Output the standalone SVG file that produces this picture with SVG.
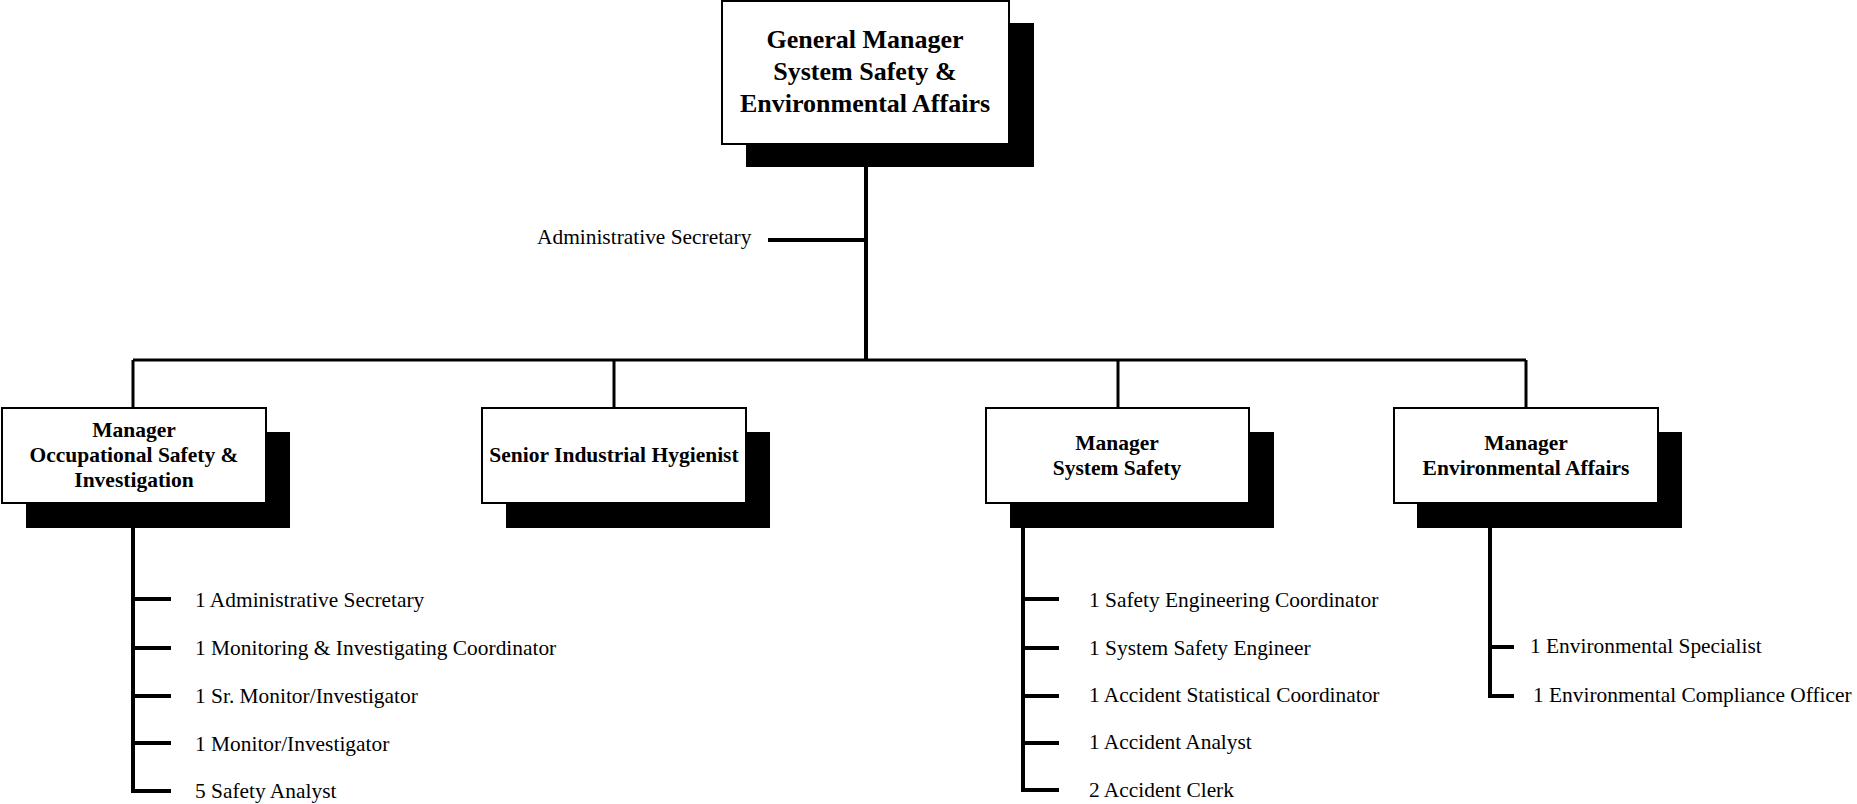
<svg xmlns="http://www.w3.org/2000/svg" width="1857" height="804" viewBox="0 0 1857 804">
  <style>
    .box { fill: #ffffff; stroke: #000000; stroke-width: 2; }
    .shadow { fill: #000000; }
    .title { font-family: "Liberation Serif", "Times New Roman", serif; font-weight: bold; fill: #000000; text-anchor: middle; }
    .item { font-family: "Liberation Serif", "Times New Roman", serif; font-size: 21.4px; fill: #000000; }
    .bus { stroke: #000000; stroke-width: 3; fill: none; }
    .stem { stroke: #000000; stroke-width: 4; fill: none; }
  </style>
  <rect width="1857" height="804" fill="#ffffff"/>

  <!-- connectors -->
  <g id="connectors">
    <line class="stem" x1="866" y1="144" x2="866" y2="360"/>
    <line class="stem" x1="768" y1="240" x2="866" y2="240"/>
    <line class="bus" x1="133" y1="360" x2="1526" y2="360"/>
    <line class="bus" x1="133" y1="360" x2="133" y2="408"/>
    <line class="bus" x1="614" y1="360" x2="614" y2="408"/>
    <line class="bus" x1="1118" y1="360" x2="1118" y2="408"/>
    <line class="bus" x1="1526" y1="360" x2="1526" y2="408"/>

    <!-- occupational safety staff -->
    <polyline class="stem" points="133,503 133,791 171,791"/>
    <line class="stem" x1="133" y1="599" x2="171" y2="599"/>
    <line class="stem" x1="133" y1="648" x2="171" y2="648"/>
    <line class="stem" x1="133" y1="696" x2="171" y2="696"/>
    <line class="stem" x1="133" y1="743" x2="171" y2="743"/>

    <!-- system safety staff -->
    <polyline class="stem" points="1023,503 1023,790 1059,790"/>
    <line class="stem" x1="1023" y1="599" x2="1059" y2="599"/>
    <line class="stem" x1="1023" y1="648" x2="1059" y2="648"/>
    <line class="stem" x1="1023" y1="696" x2="1059" y2="696"/>
    <line class="stem" x1="1023" y1="743" x2="1059" y2="743"/>

    <!-- environmental affairs staff -->
    <polyline class="stem" points="1490,503 1490,696 1514,696"/>
    <line class="stem" x1="1490" y1="647" x2="1514" y2="647"/>
  </g>

  <!-- general manager -->
  <g id="general-manager">
    <rect class="shadow" x="746" y="23" width="288" height="144"/>
    <rect class="box" x="722" y="1" width="287" height="143"/>
    <text class="title" font-size="26" x="865" y="48">General Manager</text>
    <text class="title" font-size="26" x="865" y="80">System Safety &amp;</text>
    <text class="title" font-size="26" x="865" y="112">Environmental Affairs</text>
  </g>

  <g id="admin-secretary">
    <text class="item" x="537" y="244">Administrative Secretary</text>
  </g>

  <!-- occupational safety & investigation -->
  <g id="mgr-occupational">
    <rect class="shadow" x="26" y="432" width="264" height="96"/>
    <rect class="box" x="2" y="408" width="264" height="95"/>
    <text class="title" font-size="21.5" x="134" y="437">Manager</text>
    <text class="title" font-size="21.5" x="134" y="462">Occupational Safety &amp;</text>
    <text class="title" font-size="21.5" x="134" y="487">Investigation</text>
  </g>

  <g id="senior-hygienist">
    <rect class="shadow" x="506" y="432" width="264" height="96"/>
    <rect class="box" x="482" y="408" width="264" height="95"/>
    <text class="title" font-size="21.5" x="614" y="462">Senior Industrial Hygienist</text>
  </g>

  <g id="mgr-system-safety">
    <rect class="shadow" x="1010" y="432" width="264" height="96"/>
    <rect class="box" x="986" y="408" width="263" height="95"/>
    <text class="title" font-size="21.5" x="1117" y="450">Manager</text>
    <text class="title" font-size="21.5" x="1117" y="475">System Safety</text>
  </g>

  <g id="mgr-environmental">
    <rect class="shadow" x="1417" y="432" width="265" height="96"/>
    <rect class="box" x="1394" y="408" width="264" height="95"/>
    <text class="title" font-size="21.5" x="1526" y="450">Manager</text>
    <text class="title" font-size="21.5" x="1526" y="475">Environmental Affairs</text>
  </g>

  <g id="occupational-staff">
    <text class="item" x="195" y="607">1 Administrative Secretary</text>
    <text class="item" x="195" y="655">1 Monitoring &amp; Investigating Coordinator</text>
    <text class="item" x="195" y="703">1 Sr. Monitor/Investigator</text>
    <text class="item" x="195" y="751">1 Monitor/Investigator</text>
    <text class="item" x="195" y="798">5 Safety Analyst</text>
  </g>

  <g id="system-safety-staff">
    <text class="item" x="1089" y="607">1 Safety Engineering Coordinator</text>
    <text class="item" x="1089" y="655">1 System Safety Engineer</text>
    <text class="item" x="1089" y="702">1 Accident Statistical Coordinator</text>
    <text class="item" x="1089" y="749">1 Accident Analyst</text>
    <text class="item" x="1089" y="797">2 Accident Clerk</text>
  </g>

  <g id="environmental-staff">
    <text class="item" x="1530" y="653">1 Environmental Specialist</text>
    <text class="item" x="1533" y="702">1 Environmental Compliance Officer</text>
  </g>
</svg>
